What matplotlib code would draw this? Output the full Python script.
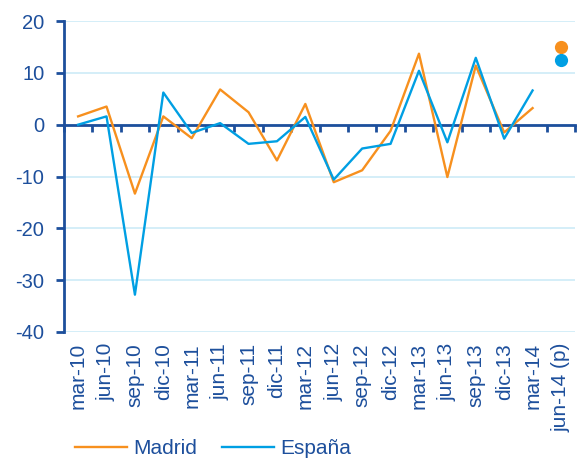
import numpy as np
import matplotlib
matplotlib.use('Agg')
import matplotlib.pyplot as plt

periods = ['mar-10', 'jun-10', 'sep-10', 'dic-10', 'mar-11', 'jun-11', 'sep-11', 'dic-11',
           'mar-12', 'jun-12', 'sep-12', 'dic-12', 'mar-13', 'jun-13', 'sep-13', 'dic-13',
           'mar-14', 'jun-14 (p)']
madrid = [1.6, 3.5, -13.3, 1.6, -2.6, 6.8, 2.4, -6.9, 4.0, -11.1, -8.8, -1.2,
          13.7, -10.1, 11.4, -1.5, 3.2, 14.9]
espana = [0.0, 1.6, -32.8, 6.2, -1.6, 0.3, -3.7, -3.2, 1.5, -10.6, -4.6, -3.7,
          10.4, -3.4, 12.9, -2.7, 6.6, 12.4]

orange = '#F7901E'
blue = '#009FE3'
dark = '#1D4F9C'
grid_c = '#CDEBF7'

plt.rcParams['font.family'] = ['Liberation Sans', 'DejaVu Sans']
plt.rcParams['axes.unicode_minus'] = False

fig = plt.figure(figsize=(5.81, 4.62), dpi=100)
ax = fig.add_axes([0.110, 0.2814, 0.880, 0.6731])

x = np.arange(len(periods))
# lines up to mar-14, forecast as dots
ax.plot(x[:-1], madrid[:-1], color=orange, lw=1.7, label='Madrid', zorder=3)
ax.plot(x[:-1], espana[:-1], color=blue, lw=1.7, label='España', zorder=3)
ax.plot(x[-1], madrid[-1], 'o', color=orange, ms=9.5, mec='none', zorder=4)
ax.plot(x[-1], espana[-1], 'o', color=blue, ms=9.5, mec='none', zorder=4)

ax.set_ylim(-40, 20)
ax.set_xlim(-0.5, len(periods) - 0.5)
ax.set_yticks(range(-40, 21, 10))
ax.yaxis.grid(True, color=grid_c, lw=1.2)
ax.set_axisbelow(True)

for s in ['top', 'right']:
    ax.spines[s].set_visible(False)
ax.spines['left'].set_color(dark)
ax.spines['left'].set_linewidth(2)
ax.spines['bottom'].set_position(('data', 0))
ax.spines['bottom'].set_color(dark)
ax.spines['bottom'].set_linewidth(2)
ax.spines['bottom'].set_zorder(2)

ax.tick_params(axis='y', colors=dark, labelsize=14.5, length=6, width=2, direction='out', pad=8)
ax.set_xticks(np.arange(len(periods) + 1) - 0.5)
ax.set_xticklabels([])
ax.tick_params(axis='x', colors=dark, length=5, width=2, direction='out')

sec = ax.secondary_xaxis(0)
sec.set_xticks(x)
sec.set_xticklabels(periods, rotation=90, color=dark, fontsize=15)
sec.tick_params(length=0, pad=8)
sec.spines['bottom'].set_visible(False)

fig.legend(loc='center left', bbox_to_anchor=(75 / 581, 1 - 449 / 462), ncol=2, frameon=False,
           fontsize=15, handlelength=2.5, columnspacing=1.2, handletextpad=0.3,
           borderpad=0, borderaxespad=0, labelcolor=dark)

fig.savefig('out.png', dpi=100)
